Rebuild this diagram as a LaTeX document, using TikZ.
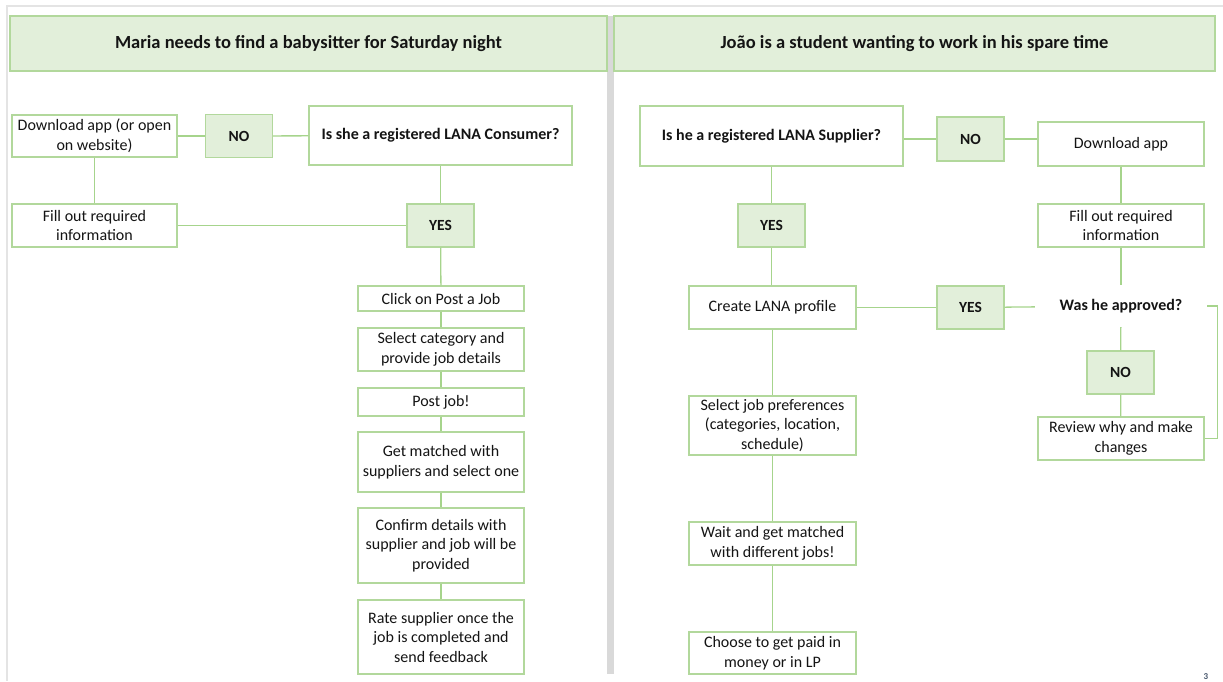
\documentclass[tikz,border=0pt]{standalone}
\usepackage{fontspec}
\setmainfont{Carlito}
\definecolor{leaf}{RGB}{226,239,218}
\definecolor{edge}{RGB}{178,216,156}
\definecolor{wire}{RGB}{166,212,140}
\definecolor{frame}{RGB}{228,228,228}
\definecolor{divider}{RGB}{217,217,217}
\definecolor{ink}{RGB}{20,20,20}
\definecolor{pagenum}{RGB}{68,84,106}
\begin{document}
\begin{tikzpicture}[x=1pt,y=-1pt,
  every node/.style={text=ink, inner sep=0pt, align=center},
  header/.style={draw=edge, fill=leaf, line width=1.4pt, minimum width=597pt, minimum height=55pt,
    font=\fontsize{18.5}{22}\selectfont\bfseries},
  stepbox/.style={draw=edge, fill=white, line width=1.4pt, font=\fontsize{16}{19.5}\selectfont},
  askbox/.style={stepbox, font=\fontsize{16}{19}\selectfont\bfseries},
  answer/.style={draw=edge, fill=leaf, line width=1.4pt, minimum width=67pt, minimum height=43pt,
    font=\fontsize{15.5}{18}\selectfont\bfseries},
  link/.style={draw=wire, line width=1.3pt}]
\useasboundingbox (0,0) rectangle (1223,681);

% outer page frame and centre divider
\draw[frame, line width=1.2pt] (7,681) -- (7,6) -- (1223,6);
\fill[divider] (607,16) rectangle (614,674);

% ---------- consumer side ----------
\node[header] (h1) at (308.5,43.5) {Maria needs to find a babysitter for Saturday night};

\node[stepbox, minimum width=165pt, minimum height=42pt] (dl1) at (94.5,136) {Download app (or open\\on website)};
\node[answer] (no1) at (239,136) {NO};
\node[askbox, minimum width=263pt, minimum height=59pt] (q1) at (440.5,135.5) {Is she a registered LANA Consumer?};
\node[stepbox, minimum width=165pt, minimum height=43pt] (fill1) at (94.5,225.5) {Fill out required\\information};
\node[answer] (yes1) at (440.5,225.5) {YES};

\node[stepbox, minimum width=166pt, minimum height=25pt] (click) at (441,298.5) {Click on Post a Job};
\node[stepbox, minimum width=166pt, minimum height=43pt] (cat) at (441,349.5) {Select category and\\provide job details};
\node[stepbox, minimum width=166pt, minimum height=28pt] (post) at (441,402) {Post job!};
\node[stepbox, minimum width=166pt, minimum height=60pt] (match) at (441,462) {Get matched with\\suppliers and select one};
\node[stepbox, minimum width=166pt, minimum height=75pt] (conf) at (441,545.5) {Confirm details with\\supplier and job will be\\provided};
\node[stepbox, minimum width=166pt, minimum height=74pt] (rate) at (441,637) {Rate supplier once the\\job is completed and\\send feedback};

\draw[link] (dl1) -- (no1);
\draw[link] (no1) -- (q1);
\draw[link] (dl1) -- (fill1);
\draw[link] (fill1) -- (yes1);
\draw[link] (q1) -- (yes1);
\draw[link] (yes1) -- (click);
\draw[link] (click) -- (cat);
\draw[link] (cat) -- (post);
\draw[link] (post) -- (match);
\draw[link] (match) -- (conf);
\draw[link] (conf) -- (rate);

% ---------- supplier side ----------
\node[header, minimum width=601pt] (h2) at (914.5,43.5) {João is a student wanting to work in his spare time};

\node[askbox, minimum width=263pt, minimum height=60pt] (q2) at (771.5,136) {Is he a registered LANA Supplier?};
\node[answer, minimum height=44pt] (no2) at (970.5,139) {NO};
\node[stepbox, minimum width=166pt, minimum height=44pt] (dl2) at (1121,144) {Download app};
\node[answer] (yes2) at (771.5,225.5) {YES};
\node[stepbox, minimum width=166pt, minimum height=43pt] (fill2) at (1121,225.5) {Fill out required\\information};

\node[stepbox, minimum width=167pt, minimum height=43pt] (prof) at (772.5,307.5) {Create LANA profile};
\node[answer] (yes3) at (970.5,307.5) {YES};
\node[font=\fontsize{16}{19}\selectfont\bfseries, minimum width=172pt, minimum height=42pt] (appr) at (1121,306) {Was he approved?};
\node[answer] (no3) at (1120.5,372.5) {NO};
\node[stepbox, minimum width=166pt, minimum height=43pt] (rev) at (1121,438.5) {Review why and make\\changes};

\node[stepbox, minimum width=167pt, minimum height=59pt] (pref) at (772.5,425.5) {Select job preferences\\(categories, location,\\schedule)};
\node[stepbox, minimum width=167pt, minimum height=43pt] (wait) at (772.5,543.5) {Wait and get matched\\with different jobs!};
\node[stepbox, minimum width=167pt, minimum height=42pt] (pay) at (772.5,653) {Choose to get paid in\\money or in LP};

\draw[link] (no2.west -| q2.east) -- (no2.west);
\draw[link] (no2.east) -- (no2.east -| dl2.west);
\draw[link] (q2.south -| yes2) -- (yes2);
\draw[link] (dl2) -- (fill2);
\draw[link] (yes2) -- (yes2 |- prof.north);
\draw[link] (fill2) -- (appr);
\draw[link] (prof) -- (yes3);
\draw[link] (yes3) -- (appr);
\draw[link] (appr) -- (no3);
\draw[link] (no3) -- (rev);
\draw[link] (appr.east) -- ++(10,0) |- (rev.east);
\draw[link] (prof) -- (pref);
\draw[link] (pref) -- (wait);
\draw[link] (wait) -- (pay);

% page number
\node[text=pagenum, font=\fontsize{9}{10}\selectfont\bfseries, anchor=south] (pg) at (1206,680) {3};
\end{tikzpicture}
\end{document}
